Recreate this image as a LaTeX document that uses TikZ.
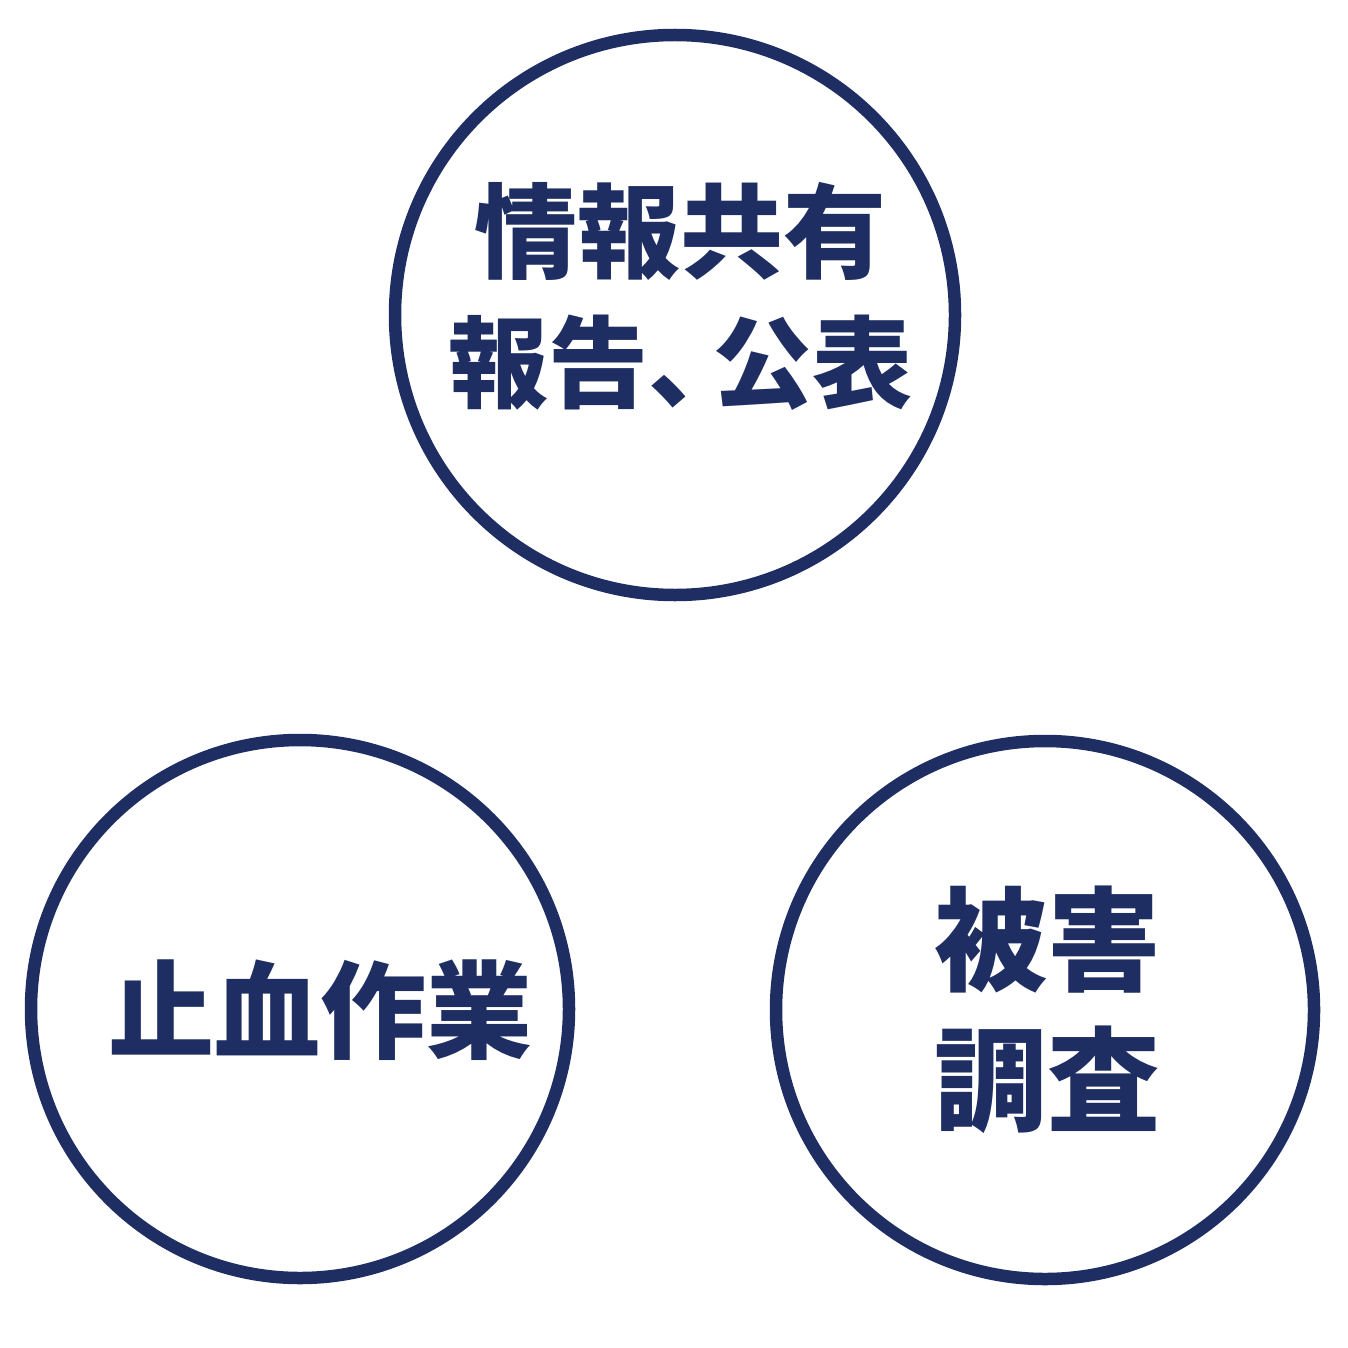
\documentclass[tikz,border=0pt]{standalone}
\usepackage{fontspec}
\newfontfamily\cjk{Noto Sans CJK JP}
\definecolor{navy}{RGB}{30,46,98}
\tikzset{
  ring/.style={circle, draw=navy, line width=12.5pt, inner sep=0pt},
  lbl/.style={text=navy, font=\cjk\bfseries, align=center, inner sep=0pt}
}
\begin{document}
\begin{tikzpicture}[x=1pt,y=-1pt]
\useasboundingbox (0,0) rectangle (1348,1348);
\node[ring, minimum size=560pt] (top) at (675,315) {};
\node[ring, minimum size=538pt] (left) at (300,1009) {};
\node[ring, minimum size=538pt] (right) at (1045,1010) {};
\node[lbl, font=\cjk\bfseries\fontsize{103}{130}\selectfont] (toptext) at (680,296) {情報共有\\{\fontsize{100}{130}\selectfont 報告、\hspace{-0.36em}公表}};
\node[lbl, font=\cjk\bfseries\fontsize{106}{130}\selectfont] (lefttext) at (320,1010) {止血作業};
\node[lbl, font=\cjk\bfseries\fontsize{113}{140}\selectfont] (righttext) at (1047,1010) {被害\\調査};
\end{tikzpicture}
\end{document}
